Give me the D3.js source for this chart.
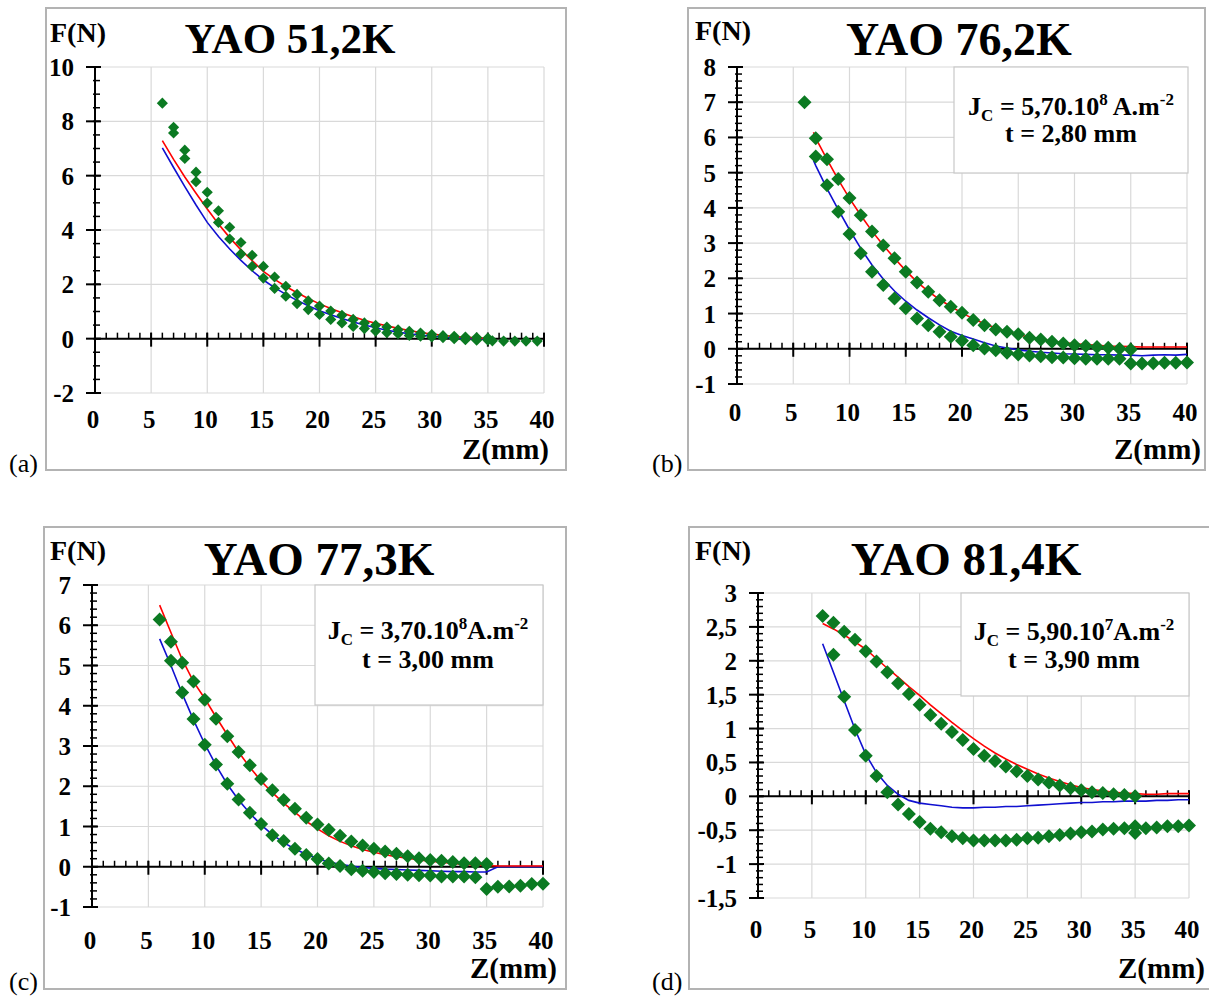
<!DOCTYPE html>
<html><head><meta charset="utf-8">
<script src="https://cdn.jsdelivr.net/npm/d3@7"></script>
<style>body{margin:0;background:#fff} svg{display:block}</style>
</head><body>
<svg id="chart" width="1209" height="996"></svg>
<script>
// ---------- DATA ----------
const titles = ["YAO 51,2K", "YAO 76,2K", "YAO 77,3K", "YAO 81,4K"];
const panelTags = ["(a)", "(b)", "(c)", "(d)"];
const xTicks = [0, 5, 10, 15, 20, 25, 30, 35, 40];

// Panel (a)
const zLineA = [6,7,8,9,10,11,12,13,14,15,16,17,18,19,20,21,22,23,24,25,26,27,28,29,30,31,32,33,34,35];
const redA  = [7.29,6.60,5.95,5.35,4.77,4.22,3.72,3.27,2.87,2.48,2.18,1.92,1.69,1.48,1.28,1.11,0.95,0.81,0.68,0.57,0.47,0.38,0.30,0.23,0.17,0.12,0.08,0.05,0.03,0.02];
const blueA = [7.02,6.30,5.60,4.92,4.28,3.76,3.30,2.88,2.50,2.16,1.88,1.63,1.41,1.21,1.03,0.88,0.74,0.61,0.50,0.40,0.31,0.24,0.18,0.13,0.09,0.06,0.03,0.01,0.00,-0.01];
const zUpA  = [6,7,8,9,10,11,12,13,14,15,16,17,18,19,20,21,22,23,24,25,26,27,28,29,30,31,32,33,34,35];
const upA   = [8.67,7.78,6.94,6.13,5.39,4.71,4.10,3.54,3.07,2.66,2.27,1.93,1.63,1.39,1.20,1.02,0.86,0.71,0.58,0.49,0.43,0.33,0.27,0.21,0.15,0.11,0.09,0.06,0.04,0.02];
const zLowA = [7,8,9,10,11,12,13,14,15,16,17,18,19,20,21,22,23,24,25,26,27,28,29,30,31,32,33,34,35,35.4,36.4,37.4,38.4,39.4];
const lowA  = [7.57,6.63,5.78,4.99,4.28,3.67,3.12,2.66,2.23,1.85,1.56,1.29,1.07,0.89,0.71,0.58,0.45,0.37,0.28,0.22,0.18,0.12,0.09,0.06,0.04,0.00,-0.04,-0.06,-0.06,-0.08,-0.09,-0.09,-0.09,-0.09];

// Panel (b)
const zLineB = [6.8,7,8,9,10,11,12,13,14,15,16,17,18,19,20,21,22,23,24,25,26,27,28,29,30,31,32,33,34,35,36,37,38,39,40];
const redB  = [6.15,5.98,5.38,4.80,4.27,3.79,3.34,2.94,2.57,2.22,1.90,1.63,1.40,1.20,1.02,0.85,0.71,0.59,0.49,0.40,0.33,0.27,0.22,0.18,0.14,0.12,0.10,0.08,0.07,0.06,0.05,0.05,0.05,0.05,0.05];
const blueB = [5.35,5.20,4.55,3.95,3.38,2.85,2.38,1.98,1.64,1.35,1.10,0.88,0.68,0.50,0.38,0.28,0.17,0.08,0.02,-0.03,-0.07,-0.10,-0.12,-0.14,-0.15,-0.16,-0.17,-0.17,-0.18,-0.18,-0.20,-0.18,-0.17,-0.18,-0.16];
const zUpB  = [6,7,8,9,10,11,12,13,14,15,16,17,18,19,20,21,22,23,24,25,26,27,28,29,30,31,32,33,34,35];
const upB   = [7.00,5.98,5.38,4.82,4.28,3.79,3.33,2.93,2.57,2.19,1.88,1.62,1.38,1.19,1.02,0.82,0.67,0.55,0.48,0.41,0.31,0.26,0.20,0.15,0.10,0.08,0.05,0.03,0.00,-0.02];
const zLowB = [7,8,9,10,11,12,13,14,15,16,17,18,19,20,21,22,23,24,25,26,27,28,29,30,31,32,33,34,35,36,37,38,39,40];
const lowB  = [5.46,4.64,3.89,3.26,2.71,2.19,1.81,1.43,1.15,0.86,0.67,0.48,0.34,0.23,0.10,0.01,-0.04,-0.11,-0.16,-0.19,-0.21,-0.24,-0.25,-0.27,-0.28,-0.28,-0.28,-0.28,-0.42,-0.42,-0.41,-0.40,-0.40,-0.39];

// Panel (c)
const zLineC = [6,7,8,9,10,11,12,13,14,15,16,17,18,19,20,21,22,23,24,25,26,27,28,29,30,31,32,33,34,35,36,37,38,39,40];
const redC  = [6.50,5.82,5.15,4.60,4.18,3.72,3.28,2.85,2.47,2.13,1.84,1.58,1.35,1.13,0.94,0.77,0.63,0.52,0.43,0.36,0.30,0.25,0.21,0.17,0.14,0.11,0.08,0.06,0.04,0.03,0.02,0.02,0.02,0.02,0.02];
const blueC = [5.66,5.00,4.30,3.65,3.05,2.52,2.05,1.66,1.33,1.04,0.80,0.60,0.44,0.31,0.20,0.12,0.06,0.02,-0.02,-0.04,-0.06,-0.07,-0.08,-0.09,-0.10,-0.11,-0.12,-0.12,-0.13,-0.13,0.00,0.00,0.00,0.00,0.00];
const zUpC  = [6,7,8,9,10,11,12,13,14,15,16,17,18,19,20,21,22,23,24,25,26,27,28,29,30,31,32,33,34,35];
const upC   = [6.14,5.59,5.07,4.60,4.15,3.68,3.24,2.85,2.52,2.18,1.90,1.66,1.44,1.22,1.05,0.92,0.77,0.63,0.53,0.45,0.38,0.32,0.26,0.21,0.17,0.15,0.12,0.09,0.09,0.07];
const zLowC = [7,8,9,10,11,12,13,14,15,16,17,18,19,20,21,22,23,24,25,26,27,28,29,30,31,32,33,34,35,36,37,38,39,40];
const lowC  = [5.12,4.33,3.67,3.03,2.54,2.06,1.67,1.34,1.06,0.78,0.64,0.45,0.29,0.19,0.08,0.02,-0.06,-0.10,-0.13,-0.16,-0.18,-0.20,-0.21,-0.22,-0.24,-0.24,-0.24,-0.26,-0.55,-0.50,-0.49,-0.47,-0.43,-0.42];

// Panel (d)
const zLineD = [6,7,8,9,10,11,12,13,14,15,16,17,18,19,20,21,22,23,24,25,26,27,28,29,30,31,32,33,34,35,36,37,38,39,40];
const redD  = [2.55,2.47,2.38,2.28,2.17,2.03,1.89,1.76,1.62,1.49,1.35,1.22,1.09,0.97,0.85,0.74,0.64,0.55,0.47,0.40,0.33,0.27,0.22,0.17,0.13,0.10,0.08,0.06,0.05,0.04,0.03,0.03,0.04,0.04,0.04];
const blueD = [2.25,1.83,1.41,0.99,0.62,0.35,0.16,0.03,-0.06,-0.10,-0.12,-0.14,-0.16,-0.17,-0.17,-0.16,-0.16,-0.15,-0.15,-0.14,-0.13,-0.12,-0.11,-0.10,-0.09,-0.09,-0.08,-0.08,-0.07,-0.07,-0.07,-0.06,-0.06,-0.05,-0.05];
const zUpD  = [6,7,8,9,10,11,12,13,14,15,16,17,18,19,20,21,22,23,24,25,26,27,28,29,30,31,32,33,34,35];
const upD   = [2.66,2.56,2.43,2.31,2.14,1.99,1.83,1.67,1.51,1.35,1.20,1.07,0.95,0.83,0.70,0.60,0.52,0.44,0.37,0.30,0.25,0.20,0.16,0.12,0.09,0.06,0.05,0.03,0.02,0.00];
const zLowD = [7,8,9,10,11,12,13,14,15,16,17,18,19,20,21,22,23,24,25,26,27,28,29,30,31,32,33,34,35,35,36,37,38,39,40];
const lowD  = [2.09,1.47,0.98,0.60,0.30,0.06,-0.12,-0.26,-0.38,-0.48,-0.53,-0.59,-0.62,-0.65,-0.65,-0.65,-0.65,-0.64,-0.62,-0.61,-0.59,-0.57,-0.55,-0.53,-0.52,-0.49,-0.48,-0.47,-0.54,-0.44,-0.47,-0.46,-0.44,-0.44,-0.43];

const legendB = [["J",""],["C","sub"],[" = 5,70.10",""],["8","sup"],[" A.m",""],["-2","sup"]];
const legendC = [["J",""],["C","sub"],[" = 3,70.10",""],["8","sup"],["A.m",""],["-2","sup"]];
const legendD = [["J",""],["C","sub"],[" = 5,90.10",""],["7","sup"],["A.m",""],["-2","sup"]];
const legend2B = "t = 2,80 mm", legend2C = "t = 3,00 mm", legend2D = "t = 3,90 mm";

// ---------- LAYOUT ----------
const panels = [
  {title: titles[0], tag: panelTags[0], frame:[46,8,520,462], x0:95, x1:544, yT:67, yB:393, dom:[-2,10], major:2, minor:0.5,
   titleXY:[290,53], titleSize:43, tagXY:[9,472], fnXY:[50,42], zmmXY:[549,459], xLabY:428,
   zLine:zLineA, red:redA, blue:blueA, zUp:zUpA, up:upA, zLow:zLowA, low:lowA, mSize:62, legend:null},
  {title: titles[1], tag: panelTags[1], frame:[688,8,517,462], x0:737, x1:1187, yT:67, yB:384, dom:[-1,8], major:1, minor:0.2,
   titleXY:[959,55], titleSize:46, tagXY:[652,472], fnXY:[695,40], zmmXY:[1201,459], xLabY:421,
   zLine:zLineB, red:redB, blue:blueB, zUp:zUpB, up:upB, zLow:zLowB, low:lowB, mSize:98,
   legend:{box:[954,67,234,106], cx:1071, y1:115, y2:142, l1:legendB, l2:legend2B}},
  {title: titles[2], tag: panelTags[2], frame:[44,527,522,462], x0:92, x1:543, yT:585, yB:907, dom:[-1,7], major:1, minor:0.2,
   titleXY:[319,575], titleSize:47, tagXY:[9,990], fnXY:[50,560], zmmXY:[557,978], xLabY:949,
   zLine:zLineC, red:redC, blue:blueC, zUp:zUpC, up:upC, zLow:zLowC, low:lowC, mSize:98,
   legend:{box:[315,585,228,120], cx:428, y1:639, y2:668, l1:legendC, l2:legend2C}},
  {title: titles[3], tag: panelTags[3], frame:[689,527,522,462], x0:758, x1:1189, yT:593, yB:898, dom:[-1.5,3], major:0.5, minor:0.1,
   titleXY:[966,575], titleSize:47, tagXY:[652,990], fnXY:[695,560], zmmXY:[1205,978], xLabY:938,
   zLine:zLineD, red:redD, blue:blueD, zUp:zUpD, up:upD, zLow:zLowD, low:lowD, mSize:98,
   legend:{box:[961,593,228,103], cx:1074, y1:640, y2:668, l1:legendD, l2:legend2D}}
];

const svg = d3.select("#chart");
const FONT = "'Liberation Serif','Times New Roman',serif";
const GREEN = "#0b7a22";
const fmt = v => String(Math.round(v * 10) / 10).replace(".", ",");

panels.forEach(p => {
  const g = svg.append("g");
  const x = d3.scaleLinear().domain([0, 40]).range([p.x0, p.x1]);
  const y = d3.scaleLinear().domain(p.dom).range([p.yB, p.yT]);
  const n = Math.round((p.dom[1] - p.dom[0]) / p.major);
  const yMajor = d3.range(n + 1).map(i => +(p.dom[0] + i * p.major).toFixed(2));
  const nm = Math.round((p.dom[1] - p.dom[0]) / p.minor);
  const yMinor = d3.range(nm + 1).map(i => +(p.dom[0] + i * p.minor).toFixed(2));
  const xMinor = d3.range(41);

  // frame
  g.append("rect").attr("x", p.frame[0]).attr("y", p.frame[1]).attr("width", p.frame[2]).attr("height", p.frame[3])
    .attr("fill", "#fff").attr("stroke", "#b3b3b3").attr("stroke-width", 2);

  // grid
  g.append("g").selectAll("line").data(yMajor).join("line")
    .attr("x1", p.x0).attr("x2", p.x1).attr("y1", d => y(d)).attr("y2", d => y(d))
    .attr("stroke", "#d9d9d9").attr("stroke-width", 1.2);
  g.append("g").selectAll("line").data(xTicks.filter(d => d > 0)).join("line")
    .attr("x1", d => x(d)).attr("x2", d => x(d)).attr("y1", p.yT).attr("y2", p.yB)
    .attr("stroke", "#d9d9d9").attr("stroke-width", 1.2);

  // legend box
  if (p.legend) {
    const L = p.legend;
    g.append("rect").attr("x", L.box[0]).attr("y", L.box[1]).attr("width", L.box[2]).attr("height", L.box[3])
      .attr("fill", "#fff").attr("stroke", "#c8c8c8").attr("stroke-width", 1.2);
    const t1 = g.append("text").attr("x", L.cx).attr("y", L.y1).attr("text-anchor", "middle")
      .attr("font-family", FONT).attr("font-weight", "bold").attr("font-size", 26);
    let shift = 0;
    L.l1.forEach(([s, kind]) => {
      const target = kind === "sub" ? 6 : kind === "sup" ? -10 : 0;
      t1.append("tspan").attr("dy", target - shift).attr("font-size", kind ? 17 : 26).text(s);
      shift = target;
    });
    g.append("text").attr("x", L.cx).attr("y", L.y2).attr("text-anchor", "middle")
      .attr("font-family", FONT).attr("font-weight", "bold").attr("font-size", 26).text(L.l2);
  }

  // axes
  const ax = g.append("g").attr("stroke", "#000");
  ax.append("line").attr("x1", p.x0).attr("x2", p.x0).attr("y1", p.yT).attr("y2", p.yB).attr("stroke-width", 2);
  ax.selectAll(".ymin").data(yMinor).join("line")
    .attr("x1", p.x0 - 2).attr("x2", p.x0 + 5).attr("y1", d => y(d)).attr("y2", d => y(d)).attr("stroke-width", 1.5);
  ax.selectAll(".ymaj").data(yMajor).join("line")
    .attr("x1", p.x0 - 9).attr("x2", p.x0 + 6).attr("y1", d => y(d)).attr("y2", d => y(d)).attr("stroke-width", 2);
  const y0 = y(0);
  ax.append("line").attr("x1", p.x0).attr("x2", p.x1).attr("y1", y0).attr("y2", y0).attr("stroke-width", 2);
  ax.selectAll(".xmin").data(xMinor).join("line")
    .attr("x1", d => x(d)).attr("x2", d => x(d)).attr("y1", y0 - 6).attr("y2", y0).attr("stroke-width", 1.5);
  ax.selectAll(".xmaj").data(xTicks).join("line")
    .attr("x1", d => x(d)).attr("x2", d => x(d)).attr("y1", y0 - 6).attr("y2", y0 + 8).attr("stroke-width", 2);

  // tick labels
  g.append("g").selectAll("text").data(yMajor).join("text")
    .attr("x", p.x0 - 21).attr("y", d => y(d)).attr("dy", "0.36em").attr("text-anchor", "end")
    .attr("font-family", FONT).attr("font-weight", "bold").attr("font-size", 25).text(fmt);
  g.append("g").selectAll("text").data(xTicks).join("text")
    .attr("x", d => x(d) - 2).attr("y", p.xLabY).attr("text-anchor", "middle")
    .attr("font-family", FONT).attr("font-weight", "bold").attr("font-size", 25).text(d => d);

  // lines
  const line = d3.line().x(d => x(d[0])).y(d => y(d[1]));
  g.append("path").datum(p.zLine.map((z, i) => [z, p.blue[i]])).attr("d", line)
    .attr("fill", "none").attr("stroke", "#1010d0").attr("stroke-width", 1.6);
  g.append("path").datum(p.zLine.map((z, i) => [z, p.red[i]])).attr("d", line)
    .attr("fill", "none").attr("stroke", "#ff0000").attr("stroke-width", 1.6);

  // markers
  const pts = p.zUp.map((z, i) => [z, p.up[i]]).concat(p.zLow.map((z, i) => [z, p.low[i]]));
  const sym = d3.symbol().type(d3.symbolSquare).size(p.mSize);
  g.append("g").selectAll("path").data(pts).join("path")
    .attr("d", sym).attr("transform", d => `translate(${x(d[0])},${y(d[1])}) rotate(45)`)
    .attr("fill", GREEN);

  // text labels
  g.append("text").attr("x", p.titleXY[0]).attr("y", p.titleXY[1]).attr("text-anchor", "middle")
    .attr("font-family", FONT).attr("font-weight", "bold").attr("font-size", p.titleSize).text(p.title);
  g.append("text").attr("x", p.fnXY[0]).attr("y", p.fnXY[1])
    .attr("font-family", FONT).attr("font-weight", "bold").attr("font-size", 28).text("F(N)");
  g.append("text").attr("x", p.zmmXY[0]).attr("y", p.zmmXY[1]).attr("text-anchor", "end")
    .attr("font-family", FONT).attr("font-weight", "bold").attr("font-size", 29).text("Z(mm)");
  g.append("text").attr("x", p.tagXY[0]).attr("y", p.tagXY[1])
    .attr("font-family", FONT).attr("font-size", 26).text(p.tag);
});
</script>
</body></html>
